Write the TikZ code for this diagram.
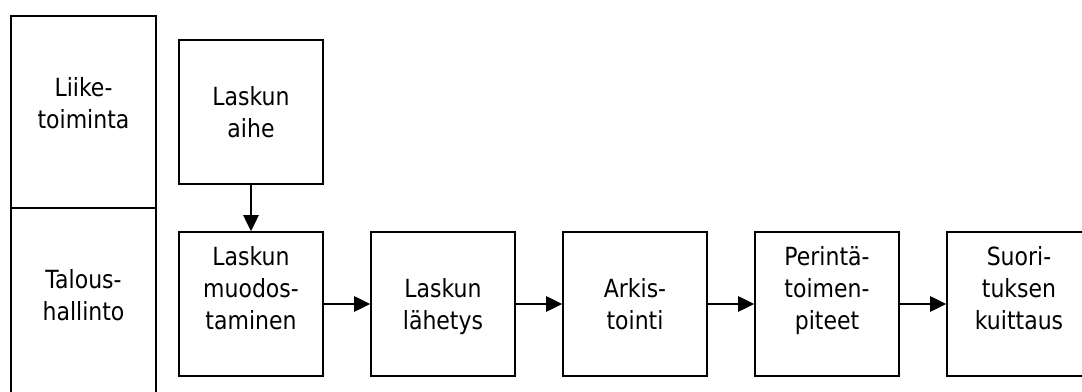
\documentclass[tikz,border=0pt]{standalone}
\usepackage{fontspec}
\setmainfont{DejaVu Sans}[FakeStretch=0.88]
\usetikzlibrary{positioning,arrows.meta}

\tikzset{
  taso/.style={draw, line width=1.3pt, minimum width=108.75pt, minimum height=144pt, inner sep=0pt, outer sep=0pt},
  vaihe/.style={draw, line width=1.3pt, minimum width=108pt, minimum height=108pt, inner sep=0pt, outer sep=0pt},
  teksti/.style={align=center, inner sep=0pt, font=\fontsize{18.75pt}{24pt}\selectfont},
  nuoli/.style={line width=1.2pt, -{Triangle[length=12pt,width=11.5pt]}, shorten >=0.6pt}
}

\begin{document}
\begin{tikzpicture}[x=0.75pt,y=0.75pt]
\path[use as bounding box, clip] (0,0) rectangle (1082,392);

% The two levels on the left
\node[taso] (liike) at (83.5,280) {};
\node[taso, below=0pt of liike] (talous) {};
\node[teksti, above=52pt of liike.south] (liiketeksti) {Liike-\\toiminta\strut};
\node[teksti, above=52pt of talous.south] (taloustekst) {Talous-\\hallinto\strut};

% The steps
\node[vaihe] (muodostus) at (251,88) {};
\node[vaihe, above=36pt of muodostus] (aihe) {};
\node[vaihe, right=36pt of muodostus] (lahetys) {};
\node[vaihe, right=36pt of lahetys] (arkistointi) {};
\node[vaihe, right=36pt of arkistointi] (perinta) {};
\node[vaihe, right=36pt of perinta] (kuittaus) {};

% Their texts, last line at the same height in every box
\node[teksti, above=27.3pt of aihe.south] {Laskun\\aihe\strut};
\node[teksti, above=27.3pt of muodostus.south] {Laskun\\muodos-\\taminen\strut};
\node[teksti, above=27.3pt of lahetys.south] {Laskun\\lähetys\strut};
\node[teksti, above=27.3pt of arkistointi.south] {Arkis-\\tointi\strut};
\node[teksti, above=27.3pt of perinta.south] {Perintä-\\toimen-\\piteet\strut};
\node[teksti, above=27.3pt of kuittaus.south] {Suori-\\tuksen\\kuittaus\strut};

% The arrows
\draw[nuoli] (aihe) -- (muodostus);
\draw[nuoli] (muodostus) -- (lahetys);
\draw[nuoli] (lahetys) -- (arkistointi);
\draw[nuoli] (arkistointi) -- (perinta);
\draw[nuoli] (perinta) -- (kuittaus);
\end{tikzpicture}
\end{document}
